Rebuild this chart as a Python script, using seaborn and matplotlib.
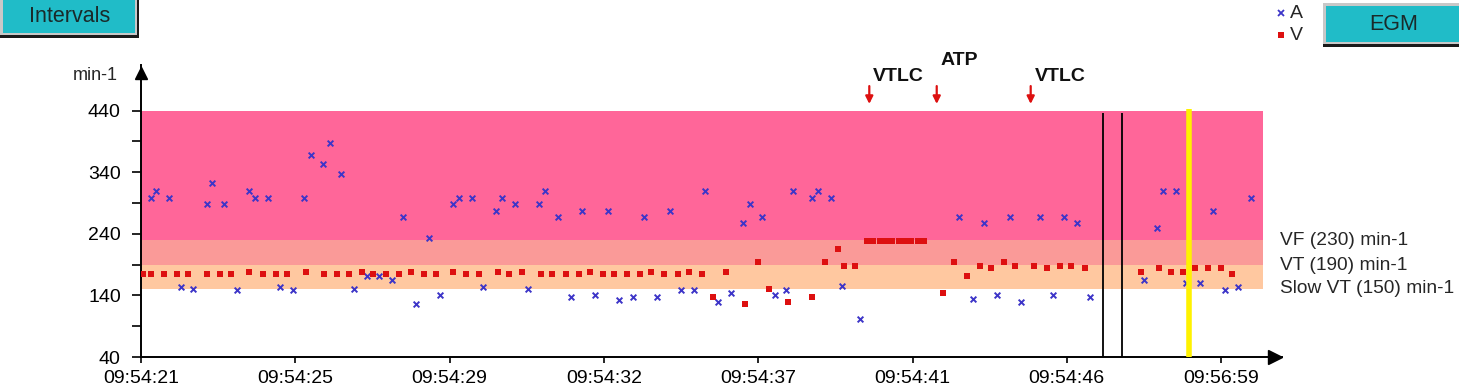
import pandas as pd
import matplotlib.pyplot as plt
from matplotlib.patches import Rectangle
from matplotlib.lines import Line2D
import seaborn as sns

sns.set_theme(style="white")
plt.rcParams['font.family'] = ['Liberation Sans', 'DejaVu Sans']

# x positions are given in tick units: 0 = first tick (09:54:21), 1 = second tick, ...
time_labels = ["09:54:21", "09:54:25", "09:54:29", "09:54:32",
               "09:54:37", "09:54:41", "09:54:46", "09:56:59"]

# atrial events (blue crosses)
a_x = [0.063, 0.097, 0.183, 0.257, 0.339, 0.426, 0.462, 0.536, 0.620, 0.702,
       0.741, 0.825, 0.901, 0.983, 1.056, 1.104, 1.178, 1.225, 1.298, 1.382,
       1.467, 1.541, 1.625, 1.698, 1.780, 1.867, 1.940, 2.022, 2.059, 2.145,
       2.218, 2.301, 2.340, 2.424, 2.508, 2.581, 2.616, 2.703, 2.787, 2.858,
       2.944, 3.029, 3.100, 3.187, 3.258, 3.342, 3.428, 3.502, 3.586, 3.657,
       3.741, 3.826, 3.902, 3.949, 4.023, 4.107, 4.178, 4.228, 4.349, 4.386,
       4.470, 4.543, 4.662, 5.303, 5.390, 5.461, 5.546, 5.632, 5.703, 5.824,
       5.909, 5.982, 6.066, 6.150, 6.502, 6.587, 6.623, 6.708, 6.771, 6.865,
       6.949, 7.023, 7.108, 7.192]
a_rate = [298, 310, 298, 154, 150, 288, 323, 288, 148, 310,
          298, 298, 154, 148, 298, 368, 354, 387, 338, 150,
          172, 172, 165, 267, 126, 233, 141, 288, 298, 298,
          154, 277, 298, 288, 150, 288, 310, 267, 138, 277,
          141, 277, 132, 138, 267, 138, 277, 148, 148, 310,
          129, 144, 257, 288, 267, 141, 148, 310, 298, 310,
          298, 156, 102, 267, 135, 257, 141, 267, 129, 267,
          141, 267, 257, 138, 165, 249, 310, 310, 160, 160,
          277, 148, 154, 298]

# ventricular events (red squares)
v_x = [0.015, 0.063, 0.147, 0.233, 0.307, 0.426, 0.510, 0.583, 0.702, 0.789,
       0.873, 0.946, 1.067, 1.188, 1.272, 1.346, 1.430, 1.504, 1.588, 1.674,
       1.748, 1.832, 1.914, 2.022, 2.108, 2.193, 2.314, 2.387, 2.471, 2.592,
       2.666, 2.752, 2.837, 2.908, 2.994, 3.065, 3.150, 3.236, 3.307, 3.391,
       3.478, 3.550, 3.634, 3.707, 3.791, 3.912, 3.997, 4.070, 4.191, 4.349,
       4.433, 4.517, 4.554, 4.627, 4.705, 4.744, 4.789, 4.828, 4.867, 4.913,
       4.951, 4.990, 5.036, 5.075, 5.196, 5.269, 5.351, 5.437, 5.511, 5.595,
       5.666, 5.787, 5.874, 5.958, 6.029, 6.116, 6.479, 6.600, 6.673, 6.755,
       6.829, 6.913, 6.997, 7.071]
v_rate = [175, 175, 175, 175, 175, 175, 175, 175, 178, 175,
          175, 175, 178, 175, 175, 175, 178, 175, 175, 175,
          178, 175, 175, 178, 175, 175, 178, 175, 178, 175,
          175, 175, 175, 178, 175, 175, 175, 175, 178, 175,
          175, 178, 175, 138, 178, 126, 194, 150, 129, 138,
          194, 215, 188, 188, 228, 228, 228, 228, 228, 228,
          228, 228, 228, 228, 144, 194, 172, 188, 184, 194,
          188, 188, 184, 188, 188, 184, 178, 184, 178, 178,
          184, 184, 184, 175]

# detection zones
zone_labels = ["Slow VT (150) min-1", "VT (190) min-1", "VF (230) min-1"]
zone_low = [150, 190, 230]
zone_high = [190, 230, 440]
zone_colors = ["#FFC8A0", "#FA9A98", "#FF6699"]
zone_end = 7.273

# therapy markers
event_names = ["VTLC", "ATP", "VTLC"]
event_x = [4.720, 5.157, 5.766]
event_text_y = [495, 521, 495]

episode_lines = [6.235, 6.358]
cursor_x = 6.790

W, H = 1459, 388
px_per_unit = (357 - 110.7) / 400  # pixels per min-1


def fx(px):
    return px / W


def fy(py):
    return 1 - py / H


def button(fig, x0, y0, x1, y1, text, fontsize):
    # 3D-ish teal button: dark shadow, light rim, teal face
    fig.add_artist(Rectangle((fx(x0), fy(y1)), fx(x1 - x0), (y1 - y0) / H,
                             transform=fig.transFigure, color="#1A1A1A", lw=0))
    fig.add_artist(Rectangle((fx(x0), fy(y1 - 3)), fx(x1 - x0 - 2), (y1 - y0 - 3) / H,
                             transform=fig.transFigure, color="#C8C8C8", lw=0))
    fig.add_artist(Rectangle((fx(x0 + 3), fy(y1 - 5)), fx(x1 - x0 - 7), (y1 - y0 - 8) / H,
                             transform=fig.transFigure, color="#20BCC8", lw=0))
    fig.text(fx((x0 + x1) / 2), fy((y0 + y1) / 2 - 1), text, ha="center", va="center",
             fontsize=fontsize, color="#1A2A2A")


def main():
    fig = plt.figure(figsize=(W / 100, H / 100), dpi=100)
    ax = fig.add_axes([fx(141), fy(357), fx(1141), 292 / H])

    ax.set_xlim(0, 1141 / 154.3)
    ax.set_ylim(40, 40 + 292 / px_per_unit)

    # zone bands
    for lo, hi, col in zip(zone_low, zone_high, zone_colors):
        ax.fill_between([0, zone_end], lo, hi, color=col, lw=0, zorder=0)

    # episode markers
    for xl in episode_lines:
        ax.vlines(xl, 40, 437, color="black", lw=1.3, zorder=3)

    a_df = pd.DataFrame({"t": a_x, "rate": a_rate})
    v_df = pd.DataFrame({"t": v_x, "rate": v_rate})
    sns.scatterplot(data=a_df, x="t", y="rate", marker="x", color="#3D35C8",
                    s=17, linewidth=1.4, ax=ax, zorder=4, legend=False)
    sns.scatterplot(data=v_df, x="t", y="rate", marker="s", color="#DD1010",
                    s=20, linewidth=0, ax=ax, zorder=4, legend=False)

    ax.vlines(cursor_x, 40, 443, color="#FFF200", lw=4, zorder=5)

    # therapy annotations
    for name, ex, ty in zip(event_names, event_x, event_text_y):
        ax.annotate("", xy=(ex, 451), xytext=(ex, 480),
                    arrowprops=dict(arrowstyle="-|>", color="#DD1010", lw=1.6,
                                    mutation_scale=11, shrinkA=0, shrinkB=0),
                    annotation_clip=False)
        ax.text(ex + 0.026, ty, name, ha="left", va="center", fontsize=14,
                fontweight="bold", color="#111111", clip_on=False)

    # axes styling
    ax.set_xticks(range(len(time_labels)))
    ax.set_xticklabels(time_labels)
    ax.set_yticks([40, 140, 240, 340, 440])
    ax.set_yticks([90, 190, 290, 390], minor=True)
    ax.tick_params(axis="x", direction="out", length=4.5, width=1.2, pad=5,
                   labelsize=14, colors="black", bottom=True)
    ax.tick_params(axis="y", which="both", direction="out", length=6.5, width=1.2,
                   pad=8, labelsize=14, colors="black", left=True)
    ax.set_xlabel("")
    ax.set_ylabel("")
    ax.grid(False)
    ax.spines["top"].set_visible(False)
    ax.spines["right"].set_visible(False)
    for side in ["left", "bottom"]:
        ax.spines[side].set_color("black")
        ax.spines[side].set_linewidth(1.4)

    # axis arrow heads
    ax.plot(1134 / 1141, 0, marker=">", color="black", markersize=10,
            transform=ax.transAxes, clip_on=False)
    ax.plot(0, (357 - 73) / 292, marker="^", color="black", markersize=9,
            transform=ax.transAxes, clip_on=False)

    fig.text(fx(118), fy(75), "min-1", ha="right", va="center", fontsize=13)

    # zone labels on the right
    for lab, py in zip(zone_labels, [288.3, 265, 240.7]):
        fig.text(fx(1280), fy(py), lab, ha="left", va="center", fontsize=13.8)

    # legend
    fig.add_artist(Line2D([fx(1281)], [fy(13)], marker="x", color="#3D35C8",
                          markersize=4, mew=1.3, transform=fig.transFigure))
    fig.add_artist(Line2D([fx(1281)], [fy(35)], marker="s", color="#DD1010",
                          markersize=4.5, mew=0, transform=fig.transFigure))
    fig.text(fx(1290), fy(13), "A", ha="left", va="center", fontsize=14)
    fig.text(fx(1290), fy(35), "V", ha="left", va="center", fontsize=14)

    button(fig, 0, -3, 139, 38, "Intervals", 15.5)
    button(fig, 1323, 3, 1465, 47, "EGM", 15.5)

    fig.savefig("out.png", dpi=100)


if __name__ == "__main__":
    main()
